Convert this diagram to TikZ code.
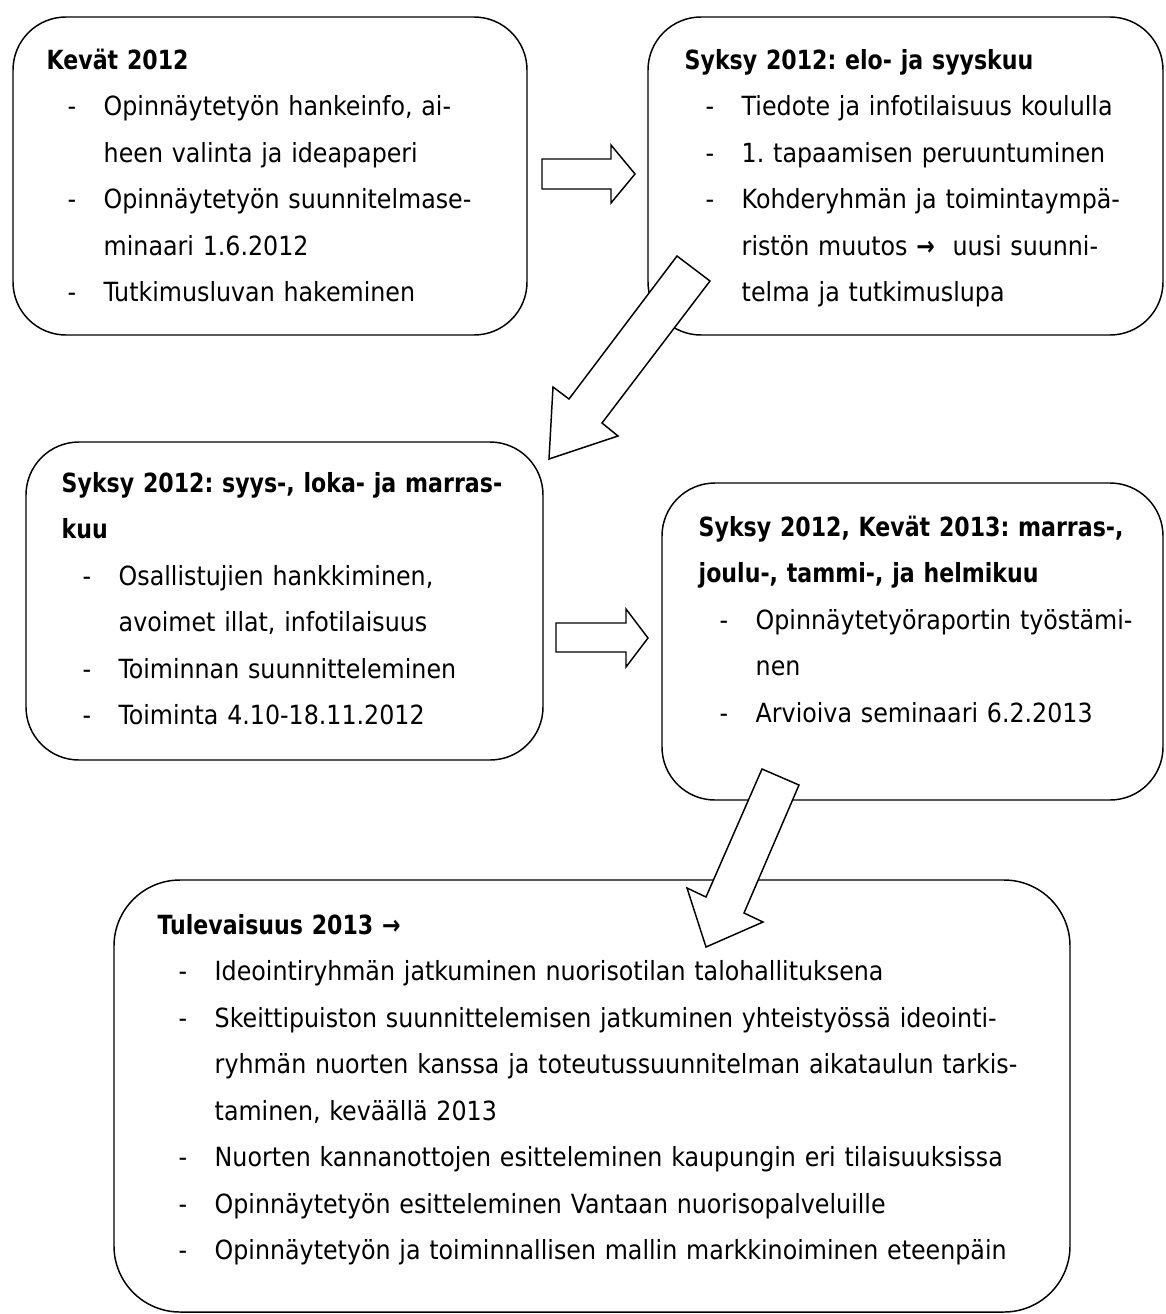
\documentclass[tikz,border=0pt]{standalone}
\usepackage{fontspec}
\setmainfont{DejaVu Sans Condensed}[BoldFeatures={FakeStretch=0.93}]
\frenchspacing
\newlength{\pxl}
\setlength{\pxl}{0.75pt}
\newcommand{\itm}[1]{\makebox[57\pxl][l]{\hspace*{21\pxl}-}#1}
\newcommand{\cnt}[1]{\hspace*{57\pxl}#1}

\begin{document}
\begin{tikzpicture}[x=0.75pt, y=-0.75pt, line width=1.1pt,
		box/.style={draw, rounded corners=53\pxl, inner sep=0},
		txt/.style={anchor=base west, inner sep=0, align=left, text width=500\pxl, font=\fontsize{19.8}{34.875}\selectfont},
		blockarrow/.style={draw, fill=white, line join=miter}]
		\useasboundingbox (0,0) rectangle (1166,1314);

		\node[box, minimum width=514\pxl, minimum height=318\pxl] (kevat) at (270,176) {};
		\node[box, minimum width=515\pxl, minimum height=318\pxl] (syksy1) at (905.5,176) {};
		\node[box, minimum width=517\pxl, minimum height=318\pxl] (syksy2) at (284.5,601) {};
		\node[box, minimum width=501\pxl, minimum height=317\pxl] (syksy3) at (912.5,641.5) {};
		\node[box, rounded corners=66\pxl, minimum width=956\pxl, minimum height=432\pxl] (tulevaisuus) at (592,1096) {};

		\node[txt] (kevatteksti) at (46,69) {\textbf{Kevät 2012}\\
			\itm{Opinnäytetyön hankeinfo, ai-}\\
			\cnt{heen valinta ja ideapaperi}\\
			\itm{Opinnäytetyön suunnitelmase-}\\
			\cnt{minaari 1.6.2012}\\
			\itm{Tutkimusluvan hakeminen}};
		\node[txt] (syksy1teksti) at (684,69) {\textbf{Syksy 2012: elo- ja syyskuu}\\
			\itm{Tiedote ja infotilaisuus koululla}\\
			\itm{1. tapaamisen peruuntuminen}\\
			\itm{Kohderyhmän ja toimintaympä-}\\
			\cnt{ristön muutos \textbf{→}\ \ uusi suunni-}\\
			\cnt{telma ja tutkimuslupa}};
		\node[txt] (syksy2teksti) at (61,492) {\textbf{Syksy 2012: syys-, loka- ja marras-}\\
			\textbf{kuu}\\
			\itm{Osallistujien hankkiminen,}\\
			\cnt{avoimet illat, infotilaisuus}\\
			\itm{Toiminnan suunnitteleminen}\\
			\itm{Toiminta 4.10-18.11.2012}};
		\node[txt] (syksy3teksti) at (698,536) {\textbf{Syksy 2012, Kevät 2013: marras-,}\\
			\textbf{joulu-, tammi-, ja helmikuu}\\
			\itm{Opinnäytetyöraportin työstämi-}\\
			\cnt{nen}\\
			\itm{Arvioiva seminaari 6.2.2013}};
		\node[txt, text width=900\pxl] (tulevaisuusteksti) at (157,934) {\textbf{Tulevaisuus 2013 →}\\
			\itm{Ideointiryhmän jatkuminen nuorisotilan talohallituksena}\\
			\itm{Skeittipuiston suunnittelemisen jatkuminen yhteistyössä ideointi-}\\
			\cnt{ryhmän nuorten kanssa ja toteutussuunnitelman aikataulun tarkis-}\\
			\cnt{taminen, keväällä 2013}\\
			\itm{Nuorten kannanottojen esitteleminen kaupungin eri tilaisuuksissa}\\
			\itm{Opinnäytetyön esitteleminen Vantaan nuorisopalveluille}\\
			\itm{Opinnäytetyön ja toiminnallisen mallin markkinoiminen eteenpäin}};

		\draw[blockarrow] (542,159) -- (611,159) -- (611,145) -- (635,174) -- (611,203) -- (611,189) -- (542,189) -- cycle;
		\draw[blockarrow] (677,256) -- (710,281) -- (602,423) -- (618,436) -- (549,459) -- (553,387) -- (569,399) -- cycle;
		\draw[blockarrow] (556,623) -- (626,623) -- (626,609) -- (648,638) -- (626,667) -- (626,652) -- (556,652) -- cycle;
		\draw[blockarrow] (762,769) -- (799,785) -- (744,913) -- (763,922) -- (706,947) -- (687,888) -- (706,897) -- cycle;
\end{tikzpicture}
\end{document}
